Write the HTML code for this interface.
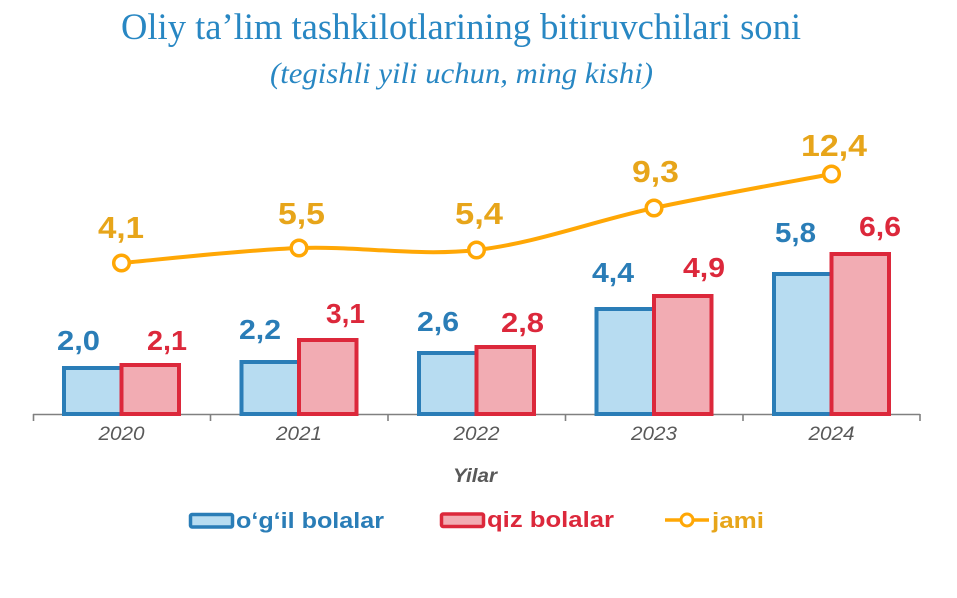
<!DOCTYPE html>
<html>
<head>
<meta charset="utf-8">
<style>
  html, body { margin: 0; padding: 0; background: #ffffff; }
  body { width: 957px; height: 598px; overflow: hidden; }
  svg { display: block; }
  .t { font-family: "Liberation Serif", "Times New Roman", serif; }
  .s { font-family: "Liberation Sans", Arial, sans-serif; }
</style>
</head>
<body>
<svg width="957" height="598" viewBox="0 0 957 598" xmlns="http://www.w3.org/2000/svg">
  <rect x="0" y="0" width="957" height="598" fill="#ffffff"/>

  <!-- Title -->
  <text class="t" x="121" y="39" font-size="37" fill="#2887C3" textLength="680" lengthAdjust="spacingAndGlyphs">Oliy ta’lim tashkilotlarining bitiruvchilari soni</text>
  <text class="t" x="270" y="83" font-size="30" font-style="italic" fill="#2887C3" textLength="383" lengthAdjust="spacingAndGlyphs">(tegishli yili uchun, ming kishi)</text>

  <!-- Axis -->
  <g stroke="#808080" stroke-width="1.6" fill="none">
    <line x1="33" y1="414.5" x2="920" y2="414.5"/>
    <line x1="33.5" y1="414" x2="33.5" y2="421"/>
    <line x1="210.5" y1="414" x2="210.5" y2="421"/>
    <line x1="388" y1="414" x2="388" y2="421"/>
    <line x1="565.5" y1="414" x2="565.5" y2="421"/>
    <line x1="743" y1="414" x2="743" y2="421"/>
    <line x1="920" y1="414" x2="920" y2="421"/>
  </g>

  <!-- Bars: blue (o'g'il) -->
  <g fill="#B7DCF1" stroke="#2A7DB7" stroke-width="4" stroke-linejoin="miter">
    <rect x="64" y="368" width="58" height="46"/>
    <rect x="241.5" y="362" width="58" height="52"/>
    <rect x="419" y="353" width="58" height="61"/>
    <rect x="596.5" y="309" width="58" height="105"/>
    <rect x="774" y="274" width="58" height="140"/>
  </g>
  <!-- Bars: red (qiz) -->
  <g fill="#F2ACB3" stroke="#DC283B" stroke-width="4" stroke-linejoin="miter">
    <rect x="121.5" y="365" width="57.5" height="49"/>
    <rect x="299" y="340" width="57.5" height="74"/>
    <rect x="476.5" y="347" width="57.5" height="67"/>
    <rect x="654" y="296" width="57.5" height="118"/>
    <rect x="831.5" y="254" width="57.5" height="160"/>
  </g>

  <!-- Line (jami) -->
  <path d="M121.5,263 C151.1,260.5 239.8,250.2 299,248 C358.2,245.8 417.3,256.7 476.5,250 C535.7,243.3 594.8,220.7 654,208 C713.2,195.3 801.9,179.7 831.5,174"
        fill="none" stroke="#FFA705" stroke-width="4" stroke-linecap="round"/>
  <g fill="#ffffff" stroke="#FFA705" stroke-width="3.5">
    <circle cx="121.5" cy="263" r="7.8"/>
    <circle cx="299" cy="248" r="7.8"/>
    <circle cx="476.5" cy="250" r="7.8"/>
    <circle cx="654" cy="208" r="7.8"/>
    <circle cx="831.5" cy="174" r="7.8"/>
  </g>

  <!-- Line labels -->
  <g class="s" font-weight="bold" font-size="31" fill="#E7A51A">
    <text x="98" y="238" textLength="46" lengthAdjust="spacingAndGlyphs">4,1</text>
    <text x="278" y="224" textLength="47" lengthAdjust="spacingAndGlyphs">5,5</text>
    <text x="455" y="224" textLength="48" lengthAdjust="spacingAndGlyphs">5,4</text>
    <text x="632" y="182" textLength="47" lengthAdjust="spacingAndGlyphs">9,3</text>
    <text x="801" y="156" textLength="66" lengthAdjust="spacingAndGlyphs">12,4</text>
  </g>

  <!-- Bar labels blue -->
  <g class="s" font-weight="bold" font-size="28" fill="#2A7DB7">
    <text x="57" y="350" textLength="43" lengthAdjust="spacingAndGlyphs">2,0</text>
    <text x="239" y="339" textLength="42" lengthAdjust="spacingAndGlyphs">2,2</text>
    <text x="417" y="331" textLength="42" lengthAdjust="spacingAndGlyphs">2,6</text>
    <text x="592" y="282" textLength="42" lengthAdjust="spacingAndGlyphs">4,4</text>
    <text x="775" y="242" textLength="41" lengthAdjust="spacingAndGlyphs">5,8</text>
  </g>
  <!-- Bar labels red -->
  <g class="s" font-weight="bold" font-size="28" fill="#DC283B">
    <text x="147" y="350" textLength="40" lengthAdjust="spacingAndGlyphs">2,1</text>
    <text x="326" y="323" textLength="39" lengthAdjust="spacingAndGlyphs">3,1</text>
    <text x="501" y="332" textLength="43" lengthAdjust="spacingAndGlyphs">2,8</text>
    <text x="683" y="277" textLength="42" lengthAdjust="spacingAndGlyphs">4,9</text>
    <text x="859" y="236" textLength="42" lengthAdjust="spacingAndGlyphs">6,6</text>
  </g>

  <!-- Year labels -->
  <g class="s" font-style="italic" font-size="19" fill="#595959">
    <text x="98.5" y="440" textLength="46" lengthAdjust="spacingAndGlyphs">2020</text>
    <text x="276" y="440" textLength="46" lengthAdjust="spacingAndGlyphs">2021</text>
    <text x="453.5" y="440" textLength="46" lengthAdjust="spacingAndGlyphs">2022</text>
    <text x="631" y="440" textLength="46" lengthAdjust="spacingAndGlyphs">2023</text>
    <text x="808.5" y="440" textLength="46" lengthAdjust="spacingAndGlyphs">2024</text>
  </g>
  <text class="s" x="453" y="482" font-style="italic" font-weight="bold" font-size="19" fill="#595959" textLength="44" lengthAdjust="spacingAndGlyphs">Yilar</text>

  <!-- Legend -->
  <rect x="190.5" y="514.5" width="42" height="12.5" rx="1.5" fill="#B7DCF1" stroke="#2A7DB7" stroke-width="3.5"/>
  <text class="s" x="236" y="528" font-weight="bold" font-size="22" fill="#2A7DB7" textLength="148" lengthAdjust="spacingAndGlyphs">o‘g‘il bolalar</text>

  <rect x="441.5" y="514" width="42" height="12.5" rx="1.5" fill="#F2ACB3" stroke="#DC283B" stroke-width="3.5"/>
  <text class="s" x="487" y="527" font-weight="bold" font-size="22" fill="#DC283B" textLength="127" lengthAdjust="spacingAndGlyphs">qiz bolalar</text>

  <line x1="665" y1="520" x2="709" y2="520" stroke="#FFA705" stroke-width="3.5"/>
  <circle cx="687" cy="520" r="6" fill="#ffffff" stroke="#FFA705" stroke-width="3"/>
  <text class="s" x="712" y="528" font-weight="bold" font-size="22" fill="#E7A51A" textLength="52" lengthAdjust="spacingAndGlyphs">jami</text>
</svg>
</body>
</html>
